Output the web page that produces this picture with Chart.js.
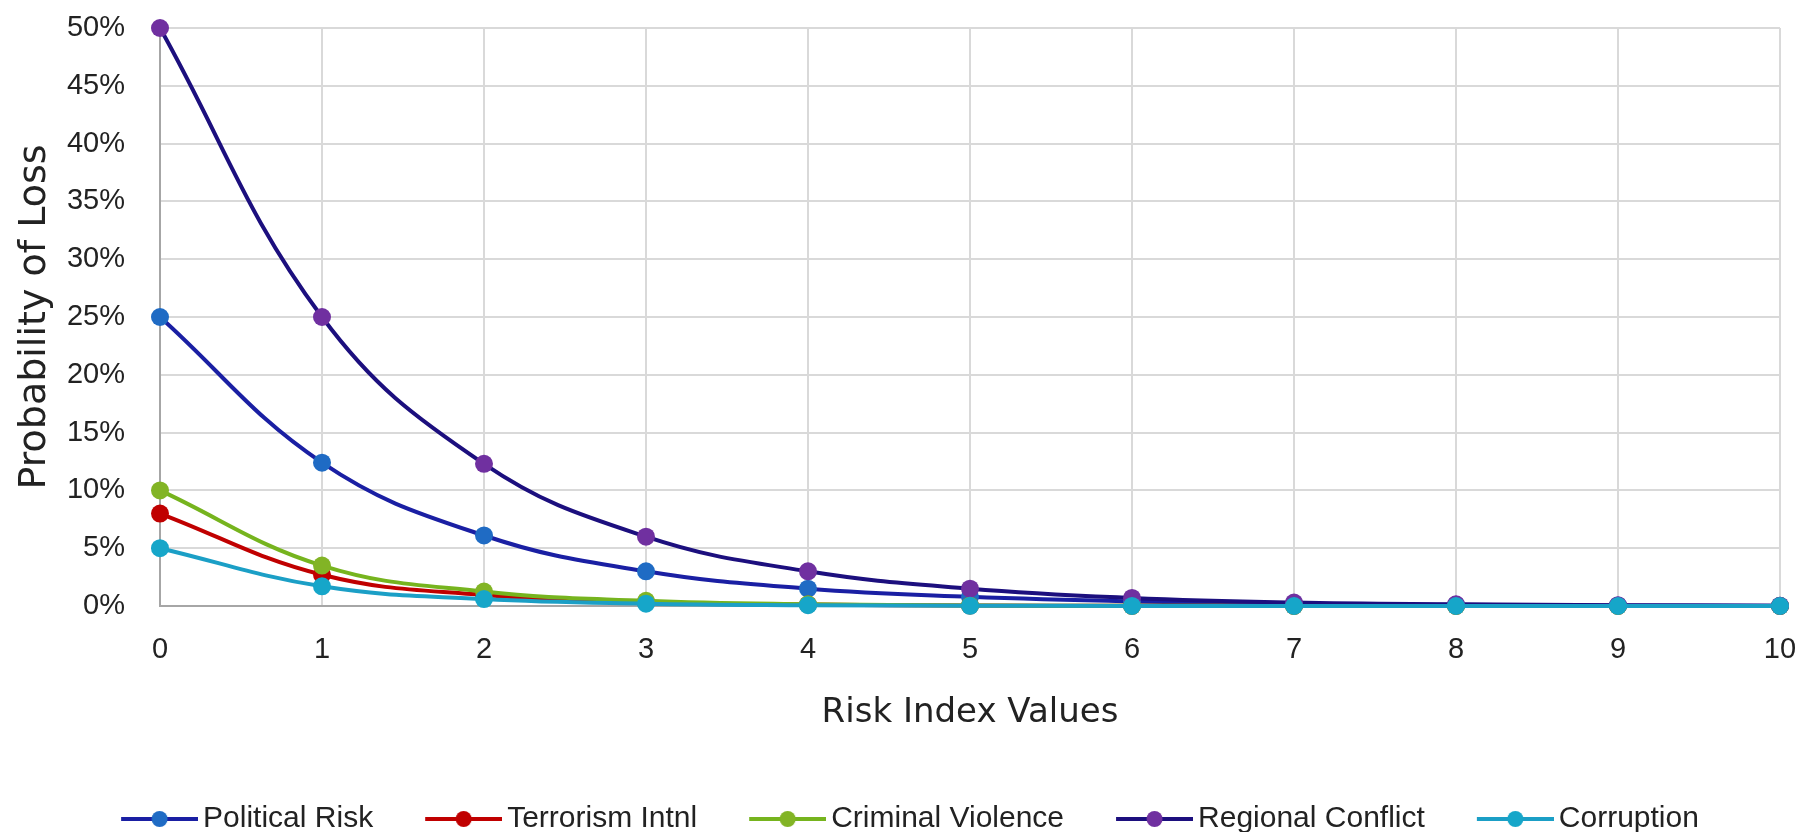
<!DOCTYPE html>
<html>
<head>
    <title>Probability of Loss</title>
    <script src="https://cdn.jsdelivr.net/npm/chart.js"></script>
    <style>
        body { margin: 0; background: #fff; }
    </style>
</head>
<body>
    <canvas id="lossChart" width="1816" height="832"></canvas>
    <script>
        // values (percent)
        const riskIndex = [0, 1, 2, 3, 4, 5, 6, 7, 8, 9, 10];
        const politicalRisk = [25, 12.4, 6.1, 3.0, 1.5, 0.8, 0.4, 0.2, 0.1, 0.05, 0.02];
        const terrorismIntnl = [8, 2.7, 0.95, 0.33, 0.12, 0.04, 0.02, 0.01, 0, 0, 0];
        const criminalViolence = [10, 3.5, 1.25, 0.45, 0.15, 0.05, 0.02, 0.01, 0, 0, 0];
        const regionalConflict = [50, 25, 12.3, 6.0, 3.0, 1.5, 0.7, 0.3, 0.15, 0.07, 0.03];
        const corruption = [5, 1.7, 0.6, 0.2, 0.07, 0.02, 0.01, 0, 0, 0, 0];
        const seriesNames = ['Political Risk', 'Terrorism Intnl', 'Criminal Violence', 'Regional Conflict', 'Corruption'];
        const lineColors = ['#1a1fa3', '#c00000', '#76b41e', '#1c0f7e', '#1b9fc6'];
        const markerColors = ['#1f6bc4', '#c00000', '#82b425', '#7030a0', '#16a6c9'];

        const seriesValues = [politicalRisk, terrorismIntnl, criminalViolence, regionalConflict, corruption];

        // legend glyph: short line with a dot in the middle (left part left blank for spacing)
        function legendGlyph(i) {
            const c = document.createElement('canvas');
            c.width = 127; c.height = 22;
            const g = c.getContext('2d');
            g.strokeStyle = lineColors[i];
            g.lineWidth = 4;
            g.beginPath(); g.moveTo(50, 11); g.lineTo(127, 11); g.stroke();
            g.fillStyle = markerColors[i];
            g.beginPath(); g.arc(88.5, 11, 8, 0, Math.PI * 2); g.fill();
            return c;
        }
        const glyphs = seriesNames.map((n, i) => legendGlyph(i));

        const datasets = seriesNames.map((name, i) => ({
            label: name,
            data: riskIndex.map((x, j) => ({ x, y: seriesValues[i][j] })),
            borderColor: lineColors[i],
            backgroundColor: markerColors[i],
            pointBackgroundColor: markerColors[i],
            pointBorderColor: markerColors[i],
            pointRadius: 9,
            pointBorderWidth: 0,
            borderWidth: 4,
            tension: 0.4,
            clip: false,
            order: seriesNames.length - 1 - i
        }));

        const tickFont = { family: 'Liberation Sans', size: 29 };

        new Chart(document.getElementById('lossChart'), {
            type: 'line',
            data: { datasets },
            options: {
                responsive: false,
                animation: false,
                layout: { padding: { top: 28, right: 36, left: 0, bottom: -12 } },
                plugins: {
                    tooltip: { enabled: false },
                    legend: {
                        position: 'bottom',
                        labels: {
                            font: { family: 'Liberation Sans', size: 30 },
                            color: '#222',
                            padding: 12,
                            usePointStyle: true,
                            pointStyleWidth: 107,
                            sort: (a, b) => a.datasetIndex - b.datasetIndex,
                            generateLabels: chart => {
                                const items = Chart.defaults.plugins.legend.labels.generateLabels(chart);
                                items.forEach(it => { it.pointStyle = glyphs[it.datasetIndex]; });
                                return items;
                            }
                        }
                    }
                },
                scales: {
                    x: {
                        type: 'linear',
                        min: 0,
                        max: 10,
                        afterFit: s => { s.height = 186; },
                        ticks: { stepSize: 1, font: tickFont, color: '#222', padding: 5 },
                        grid: { color: '#d9d9d9', lineWidth: 2, tickLength: 22, tickColor: 'rgba(0,0,0,0)' },
                        border: { color: '#a6a6a6', width: 2 },
                        title: {
                            display: true,
                            text: 'Risk Index Values',
                            font: { family: 'DejaVu Sans', size: 34 },
                            color: '#222',
                            padding: { top: 0, bottom: 58 }
                        }
                    },
                    y: {
                        min: 0,
                        max: 50,
                        afterFit: s => { s.width = 160; },
                        ticks: {
                            stepSize: 5,
                            font: tickFont,
                            color: '#222',
                            padding: 5,
                            callback: v => v + '%'
                        },
                        grid: { color: '#d9d9d9', lineWidth: 2, tickLength: 30, tickColor: 'rgba(0,0,0,0)' },
                        border: { color: '#a6a6a6', width: 2 },
                        title: {
                            display: true,
                            text: 'Probability of Loss',
                            font: { family: 'DejaVu Sans', size: 38 },
                            color: '#222',
                            padding: { top: 12, bottom: 0 }
                        }
                    }
                }
            }
        });
    </script>
</body>
</html>
